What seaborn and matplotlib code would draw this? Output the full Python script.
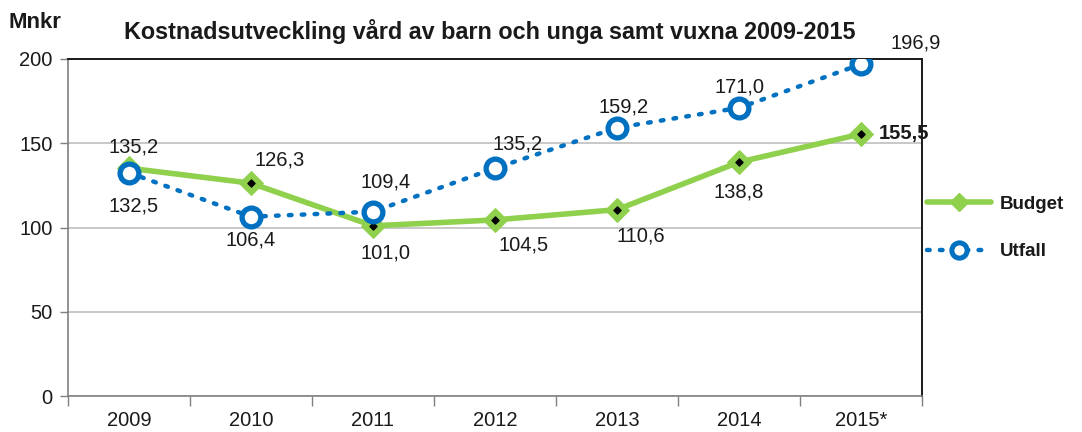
import matplotlib
matplotlib.use("Agg")
import matplotlib.pyplot as plt
import seaborn as sns
import pandas as pd
from matplotlib.lines import Line2D

years = ["2009", "2010", "2011", "2012", "2013", "2014", "2015*"]
budget = [135.2, 126.3, 101.0, 104.5, 110.6, 138.8, 155.5]
utfall = [132.5, 106.4, 109.4, 135.2, 159.2, 171.0, 196.9]
yticks = [0, 50, 100, 150, 200]

sns.set_theme(style="white")
plt.rcParams['font.family'] = ['Liberation Sans', 'DejaVu Sans']

GREEN = "#8FD04D"
BLUE = "#0070C0"
TXT = "#1a1a1a"
FS = 14.5

fig = plt.figure(figsize=(10.82, 4.32), dpi=100)
ax = fig.add_axes([68/1082, 1-396/432, (922-68)/1082, (396-59)/432])

pos = list(range(len(years)))
df = pd.DataFrame({"x": pos, "Budget": budget, "Utfall": utfall})

sns.lineplot(data=df, x="x", y="Budget", ax=ax, color=GREEN, linewidth=4,
             marker="D", markersize=12.5, markeredgecolor=GREEN,
             markerfacecolor=GREEN, zorder=3)
ax.scatter(df["x"], df["Budget"], marker="D", s=13, color="black", zorder=4)
sns.lineplot(data=df, x="x", y="Utfall", ax=ax, color=BLUE, linewidth=3.2,
             linestyle=(0, (0.6, 2.3)), marker="o", markersize=13.5,
             markeredgewidth=3.8, markeredgecolor=BLUE,
             markerfacecolor="white", zorder=5)
for l in ax.get_lines():
    l.set_dash_capstyle("round")

def fmt(v):
    return f"{v:.1f}".replace(".", ",")

b_off = [(5, 21), (29, 23), (13, -27), (29, -25), (24, -26), (0, -30), (43, 0)]
u_off = [(5, -33), (0, -23), (13, 30), (23, 24), (7, 21), (0, 21), (55, 21)]
for i, v in enumerate(budget):
    ax.annotate(fmt(v), (i, v), xytext=b_off[i], textcoords="offset pixels",
                ha="center", va="center", fontsize=FS, color=TXT,
                fontweight="bold" if i == 6 else "normal", zorder=6)
for i, v in enumerate(utfall):
    ax.annotate(fmt(v), (i, v), xytext=u_off[i], textcoords="offset pixels",
                ha="center", va="center", fontsize=FS, color=TXT, zorder=6)

ax.set_xlim(-0.5, len(years) - 0.5)
ax.set_ylim(0, 200)
ax.set_yticks(yticks)
ax.set_yticklabels([str(t) for t in yticks], fontsize=FS, color=TXT)
ax.set_xticks(pos)
ax.set_xticklabels(years, fontsize=FS, color=TXT)
ax.set_xticks([p - 0.5 for p in pos] + [len(years) - 0.5], minor=True)
ax.tick_params(axis="x", which="major", length=0, pad=11)
ax.tick_params(axis="x", which="minor", length=7, width=1, color="#808080",
               direction="out", bottom=True)
ax.tick_params(axis="y", length=6, width=1, color="#808080", direction="out",
               left=True, pad=5)
ax.set_xlabel("")
ax.set_ylabel("")
ax.grid(axis="y", color="#BFBFBF", linewidth=1.2)
ax.set_axisbelow(True)
for s in ["left", "bottom"]:
    ax.spines[s].set_color("#808080")
    ax.spines[s].set_linewidth(1.2)
for s in ["top", "right"]:
    ax.spines[s].set_color("#1a1a1a")
    ax.spines[s].set_linewidth(1.4)

fig.text(490/1082, 1-32/432,
         "Kostnadsutveckling vård av barn och unga samt vuxna 2009-2015",
         fontsize=16.8, fontweight="bold", color=TXT, ha="center", va="center")
fig.text(9/1082, 1-23/432, "Mnkr", fontsize=16, fontweight="bold",
         color=TXT, ha="left", va="center")

handles = [
    Line2D([], [], color=GREEN, linewidth=4, marker="D", markersize=9,
           markerfacecolor=GREEN, markeredgecolor=GREEN),
    Line2D([], [], color=BLUE, linewidth=3.2, linestyle=(0, (0.6, 2.3)),
           dash_capstyle="round", marker="o", markersize=11,
           markeredgewidth=3.6, markeredgecolor=BLUE, markerfacecolor="white"),
]
leg = fig.legend(handles, ["Budget", "Utfall"], loc="center left",
                 bbox_to_anchor=(927/1082, 1-228/432), frameon=False,
                 borderpad=0, borderaxespad=0,
                 handlelength=3.4, labelspacing=1.6, handletextpad=0.5,
                 prop={"size": 13.5, "weight": "bold"})
for t in leg.get_texts():
    t.set_color(TXT)

fig.savefig("out.png", dpi=100)
